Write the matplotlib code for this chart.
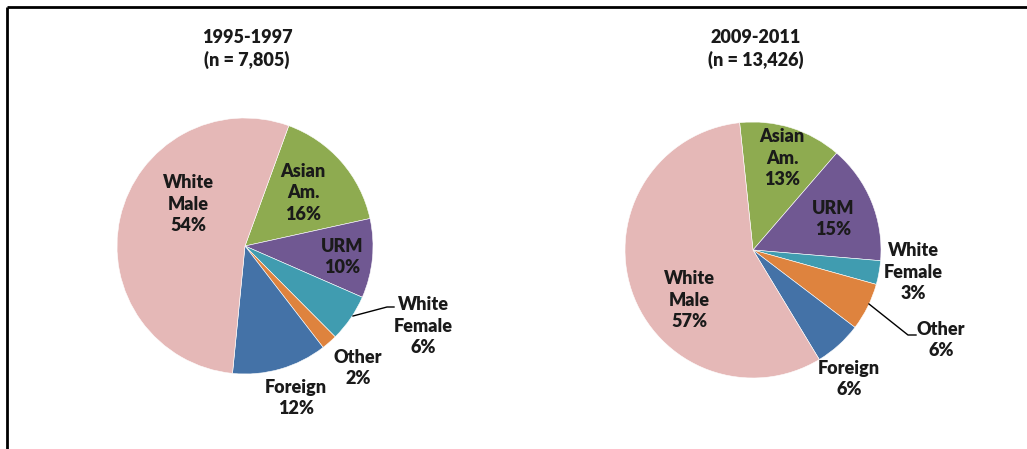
import matplotlib.pyplot as plt

# data
groups = ['Asian\nAm.', 'URM', 'White\nFemale', 'Other', 'Foreign', 'White\nMale']
pct_9597 = [16, 10, 6, 2, 12, 54]
pct_0911 = [13, 15, 3, 6, 6, 57]
titles = ['1995-1997\n(n = 7,805)', '2009-2011\n(n = 13,426)']

colors = ['#8EAB50', '#705892', '#409CB0', '#DE833E', '#4472A7', '#E5B8B7']

W, H = 1027, 449
fig = plt.figure(figsize=(W / 100, H / 100), dpi=100)
ax = fig.add_axes([0, 0, 1, 1])
ax.set_xlim(0, W)
ax.set_ylim(0, H)
ax.set_aspect('equal')
ax.axis('off')

font = dict(family='Lato', fontweight='heavy', fontsize=13, color='#1a1a1a',
            ha='center', va='center', linespacing=1.35)


def py(y):
    # pixel row (from top) -> data y
    return H - y


def label(x, y, s):
    ax.text(x, py(y), s, **font)


# left pie
ax.pie(pct_9597, colors=colors, startangle=70, counterclock=False,
       center=(245, py(246)), radius=128, frame=True,
       wedgeprops=dict(linewidth=0.4, edgecolor='white'))
label(247, 49, titles[0])
label(188, 204, 'White\nMale\n' + f'{pct_9597[5]}%')
label(303, 193, 'Asian\nAm.\n' + f'{pct_9597[0]}%')
label(342, 257, 'URM\n' + f'{pct_9597[1]}%')
label(423, 326, 'White\nFemale\n' + f'{pct_9597[2]}%')
label(358, 368, 'Other\n' + f'{pct_9597[3]}%')
label(296, 398, 'Foreign\n' + f'{pct_9597[4]}%')
ax.plot([353, 387, 394], [py(316), py(307), py(307)], color='black', lw=1)

# right pie
ax.pie(pct_0911, colors=colors, startangle=96, counterclock=False,
       center=(753, py(250)), radius=128, frame=True,
       wedgeprops=dict(linewidth=0.4, edgecolor='white'))
label(756, 49, titles[1])
label(689, 300, 'White\nMale\n' + f'{pct_0911[5]}%')
label(782, 158, 'Asian\nAm.\n' + f'{pct_0911[0]}%')
label(833, 219, 'URM\n' + f'{pct_0911[1]}%')
label(913, 272, 'White\nFemale\n' + f'{pct_0911[2]}%')
label(941, 340, 'Other\n' + f'{pct_0911[3]}%')
label(849, 379, 'Foreign\n' + f'{pct_0911[4]}%')
ax.plot([869, 908, 916], [py(304), py(335), py(335)], color='black', lw=1)

ax.set_xlim(0, W)
ax.set_ylim(0, H)
ax.axis('off')

# chart border (top and left edges visible)
ax.plot([7, W], [py(7), py(7)], color='black', lw=2, solid_capstyle='butt')
ax.plot([7, 7], [py(7), 0], color='black', lw=2, solid_capstyle='butt')

fig.savefig('out.png', dpi=100, facecolor='white')
